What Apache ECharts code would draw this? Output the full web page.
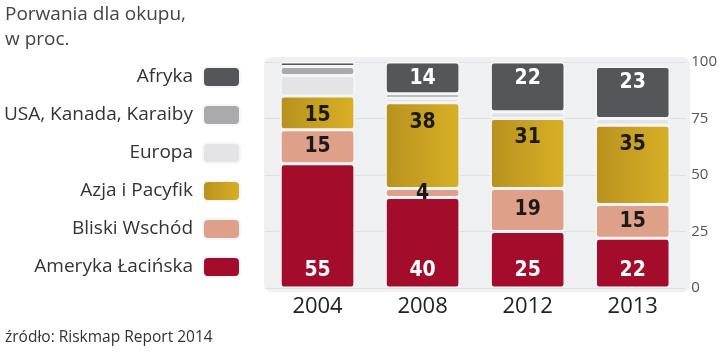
<!DOCTYPE html>
<html>
<head>
<meta charset="utf-8">
<script src="https://cdn.jsdelivr.net/npm/echarts@6/dist/echarts.min.js"></script>
<style>
  html, body { margin: 0; padding: 0; background: #fff; }
  #chart { width: 720px; height: 352px; }
</style>
</head>
<body>
<div id="chart"></div>
<script>
const years = ["2004", "2008", "2012", "2013"];
const yTicks = [0, 25, 50, 75, 100];

// bottom to top in each bar
const ameryka = [55, 40, 25, 22];
const bliski = [15, 4, 19, 15];
const azja = [15, 38, 31, 35];
const europa = [9, 2, 3, 3];
const usa = [4, 2, 0, 0];
const afryka = [2, 14, 22, 23];

const FONT = "Open Sans";
const NUM_FONT = "DejaVu Sans Condensed";

const chart = echarts.init(document.getElementById("chart"));

function segment(name, data, color, labelColor, labelPos, labelDist) {
  return {
    name: name,
    type: "bar",
    stack: "all",
    barWidth: "71%",
    data: data.map(function (v) {
      return {
        value: v,
        label: { show: labelColor !== null && v >= 4 }
      };
    }),
    itemStyle: {
      color: color,
      borderColor: "#f6f6f6",
      borderWidth: 1.5,
      borderRadius: 3
    },
    label: {
      position: labelPos || "inside",
      distance: labelDist || 0,
      color: labelColor || "#000",
      fontFamily: NUM_FONT,
      fontWeight: "bold",
      fontSize: 21
    }
  };
}

const gold = new echarts.graphic.LinearGradient(0, 0, 1, 0, [
  { offset: 0, color: "#b8911e" },
  { offset: 1, color: "#d8b026" }
]);

const option = {
  animation: false,
  textStyle: { fontFamily: FONT },
  graphic: [
    {
      type: "rect",
      z: -10,
      shape: { x: 264, y: 57, width: 426, height: 235, r: 8 },
      style: { fill: "#eef0f2" }
    },
    {
      type: "text",
      left: 5,
      top: 2,
      style: {
        text: "Porwania dla okupu,\nw proc.",
        font: "19px 'Open Sans'",
        fill: "#444",
        lineHeight: 25
      }
    },
    {
      type: "text",
      left: 5,
      top: 330,
      style: {
        text: "źródło: Riskmap Report 2014",
        font: "15.5px 'Open Sans'",
        fill: "#333"
      }
    }
  ],
  legend: {
    orient: "vertical",
    align: "right",
    right: 474,
    top: 61,
    itemWidth: 37,
    itemHeight: 20,
    itemGap: 16,
    icon: "roundRect",
    data: ["Afryka", "USA, Kanada, Karaiby", "Europa", "Azja i Pacyfik", "Bliski Wschód", "Ameryka Łacińska"],
    textStyle: { fontFamily: FONT, fontSize: 19, color: "#333", padding: [0, 5, 0, 0] },
    selectedMode: false
  },
  grid: { left: 265, right: 32, top: 62, bottom: 64 },
  xAxis: {
    type: "category",
    data: years,
    axisLine: { show: false },
    axisTick: { show: false },
    axisLabel: { fontFamily: FONT, fontSize: 22, color: "#222", margin: 8 }
  },
  yAxis: {
    type: "value",
    position: "right",
    min: yTicks[0],
    max: yTicks[yTicks.length - 1],
    interval: 25,
    axisLine: { show: false },
    axisTick: { show: false },
    axisLabel: { fontFamily: FONT, fontSize: 15, color: "#555", margin: 6 },
    splitLine: { lineStyle: { color: "#dde0e4", width: 1 } }
  },
  series: [
    segment("Ameryka Łacińska", ameryka, "#a30d2b", "#fff", "insideBottom", 7),
    segment("Bliski Wschód", bliski, "#dfa08a", "#1a1a1a", "inside", 0),
    segment("Azja i Pacyfik", azja, gold, "#1a1a1a", "insideTop", 9),
    segment("Europa", europa, "#e4e4e6", null),
    segment("USA, Kanada, Karaiby", usa, "#aaaaac", null),
    segment("Afryka", afryka, "#55565a", "#fff", "insideTop", 6)
  ]
};

chart.setOption(option);
</script>
</body>
</html>
